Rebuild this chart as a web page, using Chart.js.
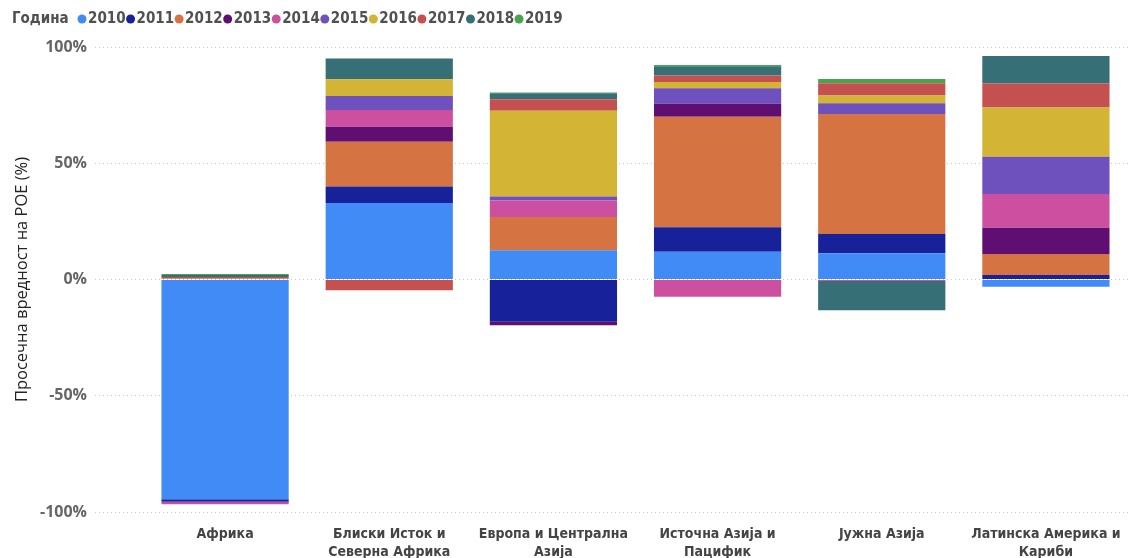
<!DOCTYPE html>
<html>
<head>
<meta charset="utf-8">
<script src="https://cdn.jsdelivr.net/npm/chart.js@4.4.1/dist/chart.umd.min.js"></script>
<style>
  html, body { margin: 0; padding: 0; background: #fff; }
  #roe_chart_wrap { width: 1128px; height: 558px; }
</style>
</head>
<body>
<div id="roe_chart_wrap"><canvas id="roe_chart"></canvas></div>
<script>
const regions = [
  "Африка",
  ["Блиски Исток и", "Северна Африка"],
  ["Европа и Централна", "Азија"],
  ["Источна Азија и", "Пацифик"],
  "Јужна Азија",
  ["Латинска Америка и", "Кариби"]
];

const years = ["2010", "2011", "2012", "2013", "2014", "2015", "2016", "2017", "2018", "2019"];

// average ROE per region and year, in %
const roe2010 = [-94.5, 32.9, 12.6, 11.9, 11.3, -3.1];
const roe2011 = [-1.0, 7.1, -18.2, 10.6, 8.3, 1.9];
const roe2012 = [0.5, 19.3, 14.3, 47.5, 51.6, 9.1];
const roe2013 = [-0.4, 6.4, -1.5, 5.6, 0, 11.3];
const roe2014 = [-0.8, 7.2, 7.1, -7.4, -0.6, 14.5];
const roe2015 = [0, 6.0, 1.7, 6.7, 4.6, 16.0];
const roe2016 = [0, 7.2, 36.9, 2.6, 3.3, 21.2];
const roe2017 = [0.6, -4.6, 4.9, 2.8, 5.3, 10.3];
const roe2018 = [0.8, 9.0, 2.6, 4.0, -12.6, 11.8];
const roe2019 = [0.5, 0, 0.3, 0.6, 1.8, 0];

const yTicks = [-100, -50, 0, 50, 100];

const yearColors = ["#418BF6", "#17229A", "#D57343", "#5F0E71", "#CD50A0",
                    "#6E51BD", "#D3B434", "#C55050", "#366F75", "#4AA44C"];

const labelFont = "'Open Sans', 'DejaVu Sans', sans-serif";
const narrowFont = "'Liberation Sans Narrow', 'DejaVu Sans Condensed', sans-serif";

window.onload = init;

function init() {
  const series = [roe2010, roe2011, roe2012, roe2013, roe2014,
                  roe2015, roe2016, roe2017, roe2018, roe2019];

  let datasets = years.map(function (year, i) {
    return {
      label: year,
      data: series[i],
      backgroundColor: yearColors[i],
      borderWidth: 0,
      barPercentage: 1.0,
      categoryPercentage: 0.775
    };
  });

  new Chart(document.getElementById("roe_chart"), {
    type: "bar",
    data: { labels: regions, datasets: datasets },
    options: getOptions(),
    plugins: [yearLegend]
  });
}

// inline legend: "Година" followed by coloured dots and years
const yearLegend = {
  id: "yearLegend",
  afterDraw(chart) {
    const ctx = chart.ctx;
    const y = 19;
    ctx.save();
    ctx.textBaseline = "middle";
    ctx.font = "bold 15px " + narrowFont;
    ctx.fillStyle = "#505050";
    ctx.fillText("Година", 12, y);
    let x = 82;
    chart.data.datasets.forEach(function (ds) {
      ctx.beginPath();
      ctx.fillStyle = ds.backgroundColor;
      ctx.arc(x, y, 4.5, 0, Math.PI * 2);
      ctx.fill();
      ctx.fillStyle = "#505050";
      ctx.fillText(ds.label, x + 6, y);
      x += 6 + ctx.measureText(ds.label).width + 5;
    });
    ctx.restore();
  }
};

function getOptions() {
  return {
    responsive: true,
    maintainAspectRatio: false,
    animation: false,
    layout: { padding: { top: 47, left: 0, right: 0, bottom: 0 } },
    plugins: {
      legend: { display: false },
      tooltip: { enabled: false }
    },
    scales: {
      x: {
        stacked: true,
        grid: { display: false },
        border: { display: false },
        ticks: {
          color: "#444444",
          padding: 5,
          maxRotation: 0,
          autoSkip: false,
          font: { family: narrowFont, size: 14, weight: "bold", lineHeight: 1.3 }
        },
        afterFit(scale) { scale.height = 46; }
      },
      y: {
        stacked: true,
        min: -100,
        max: 100,
        afterBuildTicks(scale) {
          scale.ticks = yTicks.map(function (v) { return { value: v }; });
        },
        afterFit(scale) { scale.width = 143; },
        grid: {
          color: "#c8c8c8",
          lineWidth: 1,
          tickColor: "#c8c8c8",
          tickBorderDash: [1, 3],
          tickLength: 48,
          drawTicks: true
        },
        border: { display: false, dash: [1, 3] },
        ticks: {
          color: "#666666",
          padding: 8,
          font: { family: labelFont, size: 16, weight: "bold" },
          callback: function (v) { return v + "%"; }
        },
        title: {
          display: true,
          text: "Просечна вредност на РОЕ (%)",
          color: "#252423",
          padding: { top: 12, bottom: 0 },
          font: { family: labelFont, size: 16.5 }
        }
      }
    }
  };
}
</script>
</body>
</html>
